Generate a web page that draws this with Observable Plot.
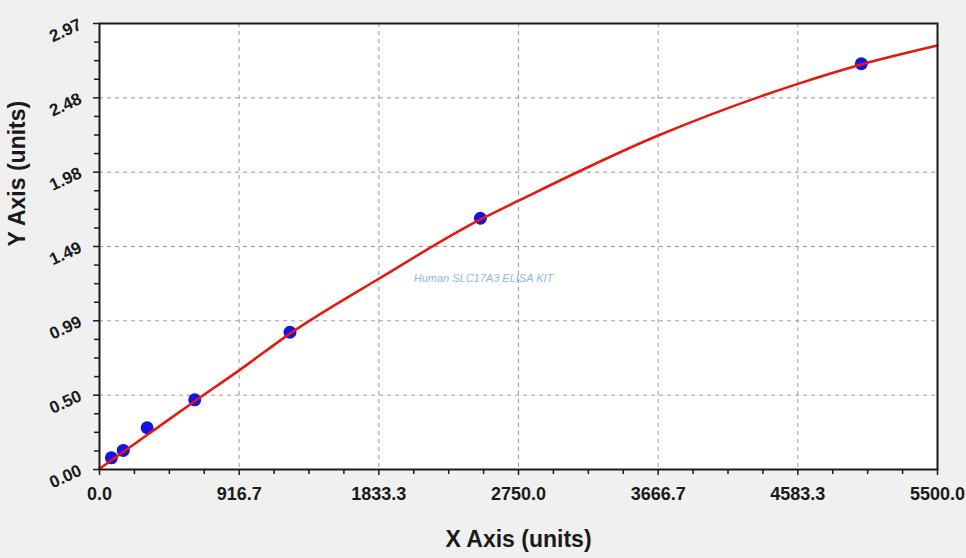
<!DOCTYPE html>
<html>
<head>
<meta charset="utf-8">
<script src="https://cdn.jsdelivr.net/npm/d3@7"></script>
<script src="https://cdn.jsdelivr.net/npm/@observablehq/plot@0.6"></script>
<style>
  html, body { margin: 0; padding: 0; background: #f0f0f0; }
  #chart { width: 966px; height: 558px; }
</style>
</head>
<body>
<div id="chart"></div>
<script>
// Standards (measured points)
const concentration = [78, 156, 312.5, 625, 1250, 2500, 5000];
const od = [0.078, 0.127, 0.278, 0.464, 0.914, 1.673, 2.702];

// Fitted curve
const curveX = [0, 312.5, 625, 916.7, 1250, 1833.3, 2500, 2750, 3666.7, 4583.3, 5000, 5500];
const curveY = [0.005, 0.23, 0.455, 0.66, 0.905, 1.27, 1.665, 1.79, 2.224, 2.568, 2.697, 2.823];

// Axes
const xTicks = [0, 916.7, 1833.3, 2750, 3666.7, 4583.3, 5500];
const xTickLabels = ["0.0", "916.7", "1833.3", "2750.0", "3666.7", "4583.3", "5500.0"];
const yTicks = [0, 0.495, 0.99, 1.485, 1.98, 2.475, 2.97];
const yTickLabels = ["0.00", "0.50", "0.99", "1.49", "1.98", "2.48", "2.97"];
const xTitle = "X Axis (units)";
const yTitle = "Y Axis (units)";
const watermark = "Human SLC17A3 ELISA KIT";

const points = concentration.map((c, i) => ({x: c, y: od[i]}));
const curve = curveX.map((c, i) => ({x: c, y: curveY[i]}));

function minorOf(ticks) {
  const out = [];
  for (let i = 0; i < ticks.length - 1; i++) {
    const a = ticks[i], b = ticks[i + 1];
    for (let k = 1; k < 4; k++) out.push(a + (b - a) * k / 4);
  }
  return out;
}
const xMinor = minorOf(xTicks);
const yMinor = minorOf(yTicks);

const ink = "#1a1a1a";
const gridColor = "#9a9a9a";

const chart = Plot.plot({
  width: 966,
  height: 558,
  marginLeft: 99,
  marginRight: 29,
  marginTop: 23,
  marginBottom: 89,
  x: {domain: [0, 5500]},
  y: {domain: [0, 2.97]},
  style: {background: "transparent", fontFamily: "'Liberation Sans', Arial, sans-serif", color: ink},
  marks: [
    Plot.frame({fill: "white", stroke: "none"}),
    Plot.gridX(xTicks, {stroke: gridColor, strokeOpacity: 1, strokeDasharray: "4,4", strokeWidth: 1}),
    Plot.gridY(yTicks, {stroke: gridColor, strokeOpacity: 1, strokeDasharray: "4,4", strokeWidth: 1}),
    Plot.axisX(xMinor, {tickSize: 5, tickFormat: () => "", stroke: ink, strokeWidth: 1.5, label: null}),
    Plot.axisY(yMinor, {tickSize: 5, tickFormat: () => "", stroke: ink, strokeWidth: 1.5, label: null}),
    Plot.axisX(xTicks, {
      tickSize: 6, tickPadding: 12, stroke: ink, strokeWidth: 1.5,
      tickFormat: d => xTickLabels[xTicks.indexOf(d)],
      fontSize: 18, fontWeight: "bold", fill: ink, label: null
    }),
    Plot.axisY(yTicks, {
      tickSize: 6, tickPadding: 13, stroke: ink, strokeWidth: 1.5, tickRotate: -25,
      tickFormat: d => yTickLabels[yTicks.indexOf(d)],
      fontSize: 17, fontWeight: "bold", fill: ink, label: null
    }),
    Plot.text([watermark], {
      frameAnchor: "middle", dx: -35, dy: 32, text: d => d,
      fill: "#8fb8e3", fontSize: 11, fontStyle: "italic"
    }),
    Plot.dot(points, {x: "x", y: "y", r: 6.5, fill: "#1414e6", stroke: "none"}),
    Plot.line(curve, {x: "x", y: "y", stroke: "#e8160c", strokeWidth: 2.5, curve: "monotone-x"}),
    Plot.frame({stroke: ink, strokeWidth: 2}),
    Plot.text([xTitle], {
      frameAnchor: "bottom", dy: 70, text: d => d, fontSize: 23, fontWeight: "bold", fill: ink,
      lineAnchor: "middle"
    }),
    Plot.text([yTitle], {
      frameAnchor: "left", dx: -82, rotate: -90, text: d => d, fontSize: 23, fontWeight: "bold", fill: ink,
      lineAnchor: "middle"
    })
  ]
});
document.getElementById("chart").appendChild(chart);
</script>
</body>
</html>
